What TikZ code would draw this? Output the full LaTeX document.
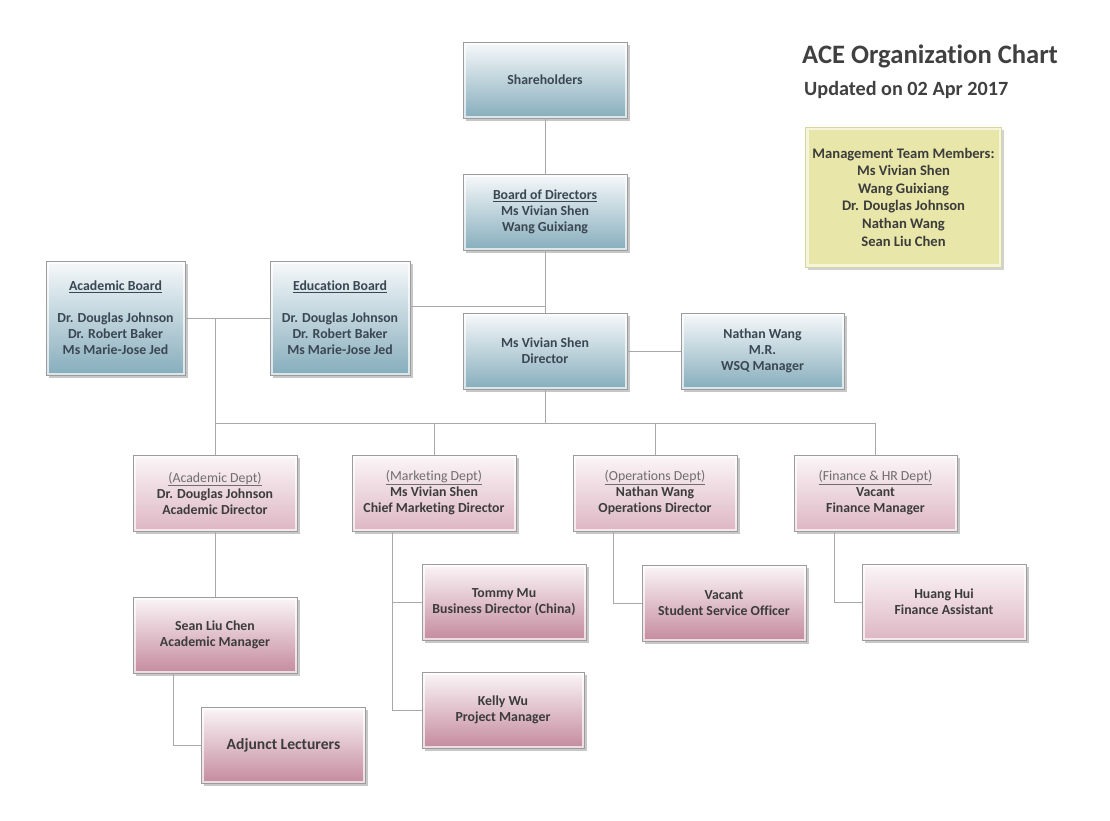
\documentclass[tikz,border=0pt]{standalone}
\usepackage{fontspec}
\setmainfont{Carlito}[Ligatures={NoCommon}]
\usetikzlibrary{shadows}
\definecolor{blueTop}{HTML}{F7F9FB}
\definecolor{blueMid}{HTML}{CADCE4}
\definecolor{blueBot}{HTML}{86ADBC}
\definecolor{pinkTop}{HTML}{FBF6F8}
\definecolor{pinkMid}{HTML}{E6C9D3}
\definecolor{pinkBot}{HTML}{C48A9E}
\definecolor{pinkLBot}{HTML}{DDB6C3}
\definecolor{yelFill}{HTML}{E8E6A8}
\definecolor{yelLine}{HTML}{D6D6A2}
\definecolor{boxLine}{HTML}{9C9C9C}
\definecolor{wireC}{HTML}{A8A8A8}
\definecolor{blueText}{HTML}{3A4752}
\definecolor{darkText}{HTML}{3C3C3C}
\definecolor{hdrText}{HTML}{6E6E6E}
\definecolor{titleC}{HTML}{404040}
\tikzset{
  box/.style={draw=boxLine, line width=0.8pt, minimum width=164pt, minimum height=76pt,
    align=center, inner sep=0pt, text=darkText,
    font=\bfseries\fontsize{13.8}{16}\selectfont,
    drop shadow={shadow xshift=2.5pt, shadow yshift=-2.5pt, opacity=0.4, fill=black!55},
    path picture={\draw[white, opacity=0.7, line width=5pt]
      (path picture bounding box.south west) rectangle (path picture bounding box.north east);}},
  bluebox/.style={box, top color=blueTop, middle color=blueMid, bottom color=blueBot, text=blueText},
  pinkbox/.style={box, top color=pinkTop, middle color=pinkMid, bottom color=pinkBot},
  deptbox/.style={box, top color=pinkTop, middle color=pinkTop!60!pinkLBot, bottom color=pinkLBot},
  yelbox/.style={draw=yelLine, line width=0.8pt, fill=yelFill, align=center, inner sep=0pt,
    minimum width=196pt, minimum height=140pt, text=darkText,
    font=\bfseries\fontsize{14.6}{17.6}\selectfont,
    drop shadow={shadow xshift=2.5pt, shadow yshift=-2.5pt, opacity=0.35, fill=black!50},
    path picture={\draw[white, opacity=0.6, line width=6pt]
      (path picture bounding box.south west) rectangle (path picture bounding box.north east);}},
  wire/.style={draw=wireC, line width=0.9pt}
}
\newcommand{\depthdr}[1]{{\mdseries\color{hdrText}\underline{#1}}}
\begin{document}
\begin{tikzpicture}[x=1pt, y=-1pt]
\fill[white] (0,0) rectangle (1110,820);
\useasboundingbox (0,0) rectangle (1110,820);

% title
\node[anchor=west, inner sep=0pt, text=titleC, font=\bfseries\fontsize{26.6}{30}\selectfont] (title) at (802,56) {ACE Organization Chart};
\node[anchor=west, inner sep=0pt, text=titleC, font=\bfseries\fontsize{20.2}{24}\selectfont] (upd) at (804,90) {Updated on 02 Apr 2017};

% management team
\node[yelbox] (mgmt) at (903.5,197) {Management Team Members:\\Ms Vivian Shen\\Wang Guixiang\\Dr. Douglas Johnson\\Nathan Wang\\Sean Liu Chen};

% top level
\node[bluebox] (sh) at (545,80) {Shareholders};
\node[bluebox] (bod) at (545,212) {\underline{Board of Directors}\\Ms Vivian Shen\\Wang Guixiang};
\node[bluebox, minimum width=139pt, minimum height=114pt] (ab) at (115.5,318)
  {\underline{Academic Board}\\[16pt]Dr. Douglas Johnson\\Dr. Robert Baker\\Ms Marie-Jose Jed};
\node[bluebox, minimum width=140pt, minimum height=114pt] (eb) at (340,318)
  {\underline{Education Board}\\[16pt]Dr. Douglas Johnson\\Dr. Robert Baker\\Ms Marie-Jose Jed};
\node[bluebox] (viv) at (545,351) {Ms Vivian Shen\\Director};
\node[bluebox, minimum width=163pt] (nat) at (762.5,351) {Nathan Wang\\M.R.\\WSQ Manager};

% departments
\node[deptbox] (acd) at (215,493) {\depthdr{(Academic Dept)}\\Dr. Douglas Johnson\\Academic Director};
\node[deptbox] (mkt) at (434,493) {\depthdr{(Marketing Dept)}\\Ms Vivian Shen\\Chief Marketing Director};
\node[deptbox] (ops) at (655,493) {\depthdr{(Operations Dept)}\\Nathan Wang\\Operations Director};
\node[deptbox, minimum width=163pt] (fin) at (875.5,493) {\depthdr{(Finance \& HR Dept)}\\Vacant\\Finance Manager};

% lower level
\node[pinkbox] (sean) at (215,635) {Sean Liu Chen\\Academic Manager};
\node[pinkbox, font=\bfseries\fontsize{15.6}{18}\selectfont] (adj) at (283.5,745) {Adjunct Lecturers};
\node[pinkbox] (tom) at (504,602) {Tommy Mu\\Business Director (China)};
\node[pinkbox, minimum width=162pt] (kel) at (503,710) {Kelly Wu\\Project Manager};
\node[pinkbox] (sso) at (724,603) {Vacant\\Student Service Officer};
\node[deptbox] (hh) at (944,602) {Huang Hui\\Finance Assistant};

% connectors
\coordinate (bus) at (545,423);
\coordinate (ebj) at (545,306);
\draw[wire] (sh.south) -- (bod.north);
\draw[wire] (bod.south) -- (viv.north);
\draw[wire] (viv.east) -- (nat.west);
\draw[wire] (eb.east |- ebj) -- (ebj);
\draw[wire] (ab.east) -- (eb.west);
\draw[wire] (ab.east -| acd.north) -- (acd.north);
\draw[wire] (viv.south) -- (bus);
\draw[wire] (acd.north |- bus) -- (fin.north |- bus);
\draw[wire] (mkt.north |- bus) -- (mkt.north);
\draw[wire] (ops.north |- bus) -- (ops.north);
\draw[wire] (fin.north |- bus) -- (fin.north);
\draw[wire] (acd.south) -- (sean.north);
\draw[wire] (sean.south west) ++(41,0) |- (adj.west);
\draw[wire] (mkt.south west) ++(41,0) |- (tom.west);
\draw[wire] (mkt.south west) ++(41,0) |- (kel.west);
\draw[wire] (ops.south west) ++(41,0) |- (sso.west);
\draw[wire] (fin.south west) ++(41,0) |- (hh.west);
\end{tikzpicture}
\end{document}
